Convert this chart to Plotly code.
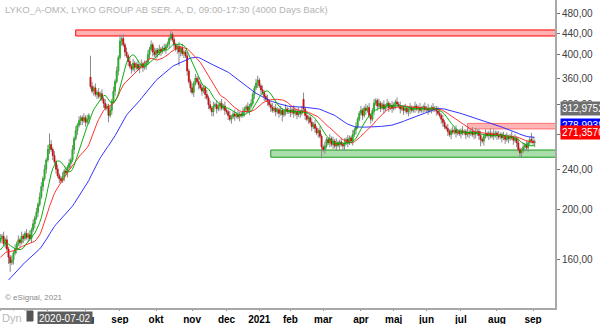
import numpy as np
import pandas as pd
import plotly.graph_objects as go

# ---------------- data ----------------
holidays = ["2020-05-21", "2020-06-19", "2020-12-24", "2020-12-25", "2020-12-31",
            "2021-01-01", "2021-01-06", "2021-04-02", "2021-04-05", "2021-05-13", "2021-06-25"]

# closes before the visible window (only used to warm up the moving averages)
warmup_closes = [98, 100, 104, 108, 106, 112, 116, 120, 118, 124, 128, 126, 132, 136, 134, 138,
                 142, 140, 145, 148, 146, 150, 152, 150,
                 150, 148, 152, 155, 153, 157, 160, 158, 156, 160, 163, 161, 158, 162, 166, 164,
                 168, 170, 173, 175]

closes = [
    176, 178, 172, 175, 168, 162, 158, 160, 165, 168,
    172, 175, 173, 178, 176, 180, 177, 179, 176, 183,
    188, 193, 198, 205, 212, 222, 230, 240, 250, 262,
    268, 262, 255, 248, 240, 233, 230, 228, 232, 238,
    236, 242, 246, 250, 262, 275, 285, 292, 298, 302,
    298, 302, 296, 300, 305, 347, 340, 345, 335, 338,
    332, 336, 328, 322, 315, 318, 305, 312, 325, 340,
    355, 372, 395, 425, 430, 418, 405, 398, 388, 380,
    375, 385, 378, 383, 376, 380, 384, 378, 382, 386,
    400, 410, 418, 405, 400, 408, 403, 410, 406, 412,
    410, 416, 420, 430, 438, 428, 418, 410, 415, 405,
    412, 402, 405, 398, 372, 355, 345, 338, 352, 360,
    355, 350, 345, 340, 345, 335, 330, 320, 315, 310,
    318, 320, 314, 318, 322, 315, 318, 312, 310, 305,
    300, 303, 307, 304, 306, 303, 307, 305, 310, 314,
    317, 312, 318, 322, 335, 345, 352, 357, 348, 342,
    338, 332, 328, 325, 320, 316, 312, 315, 310, 313,
    308, 312, 306, 311, 314, 310, 312, 309, 313, 308,
    311, 306, 310, 308, 312, 314, 305, 300, 302, 296,
    290, 293, 288, 282, 285, 278, 265, 262, 266, 274,
    270, 275, 268, 272, 266, 270, 267, 271, 268, 266,
    270, 274, 270, 276, 272, 280, 286, 290, 300, 308,
    312, 305, 315, 312, 316, 305, 300, 312, 322, 326,
    318, 322, 316, 320, 314, 318, 322, 316, 319, 315,
    320, 324, 321, 318, 314, 316, 312, 315, 310, 313,
    316, 312, 315, 318, 314, 316, 312, 315, 317, 313,
    315, 312, 314, 316, 313, 315, 311, 308, 305, 300,
    296, 290, 288, 284, 280, 285, 283, 286, 282, 284,
    281, 285, 282, 284, 280, 283, 281, 284, 280, 283,
    281, 284, 279, 274, 272, 278, 281, 279, 282, 278,
    281, 279, 282, 279, 277, 280, 276, 278, 274, 277,
    275, 278, 276, 273, 275, 270, 262, 258, 261, 265,
    267, 264, 270, 274, 272, 270, 271.357,
]

# opening gaps (bar index -> open); other bars open at the previous close
gap_opens = {0: 174, 55: 362, 185: 328}

# upper / lower shadow length in percent of the body edge
wick_up = [
    2, 1, 2, 1, 2, 1, 1, 2, 1, 2,  1, 2, 1, 2, 1, 1, 2, 1, 2, 1,
    2, 1, 2, 1, 2, 2, 1, 2, 1, 2,  5, 2, 1, 2, 1, 2, 1, 1, 2, 1,
    2, 1, 2, 1, 2, 1, 2, 1, 2, 1,  1, 2, 1, 2, 1, 10, 2, 1, 2, 1,
    2, 1, 2, 1, 2, 1, 1, 2, 1, 2,  1, 2, 1, 3, 1, 2, 1, 2, 1, 2,
    1, 2, 1, 1, 2, 1, 2, 1, 2, 1,  2, 1, 2, 1, 2, 1, 1, 2, 1, 1,
    2, 1, 1, 1, 2, 1, 2, 1, 1, 2,  1, 2, 1, 1, 2, 1, 1, 2, 1, 2,
    1, 2, 1, 2, 1, 1, 2, 1, 2, 1,  2, 1, 2, 1, 1, 2, 1, 2, 1, 1,
    2, 1, 1, 2, 1, 2, 1, 1, 2, 1,  1, 2, 1, 2, 1, 1, 2, 2, 1, 1,
    2, 1, 1, 2, 1, 1, 2, 1, 2, 1,  1, 2, 1, 1, 2, 1, 1, 2, 1, 2,
    1, 1, 2, 1, 2, 3, 1, 2, 1, 1,  2, 1, 2, 1, 1, 2, 1, 1, 2, 1,
    1, 2, 1, 2, 1, 2, 1, 1, 2, 1,  2, 1, 2, 1, 1, 2, 1, 2, 1, 1,
    2, 1, 1, 2, 1, 2, 1, 1, 2, 1,  1, 2, 1, 1, 2, 1, 2, 1, 1, 2,
    1, 1, 2, 1, 2, 1, 1, 2, 1, 1,  2, 1, 1, 2, 1, 1, 2, 1, 1, 2,
    1, 2, 1, 1, 2, 1, 1, 2, 1, 1,  2, 1, 1, 2, 1, 1, 2, 1, 2, 1,
    1, 1, 2, 1, 1, 2, 1, 1, 2, 1,  2, 1, 1, 2, 1, 1, 2, 1, 1, 2,
    1, 2, 1, 1, 2, 1, 1, 2, 1, 2,  1, 1, 2, 1, 2, 1, 2, 1, 1, 2,
    1, 2, 1, 1, 3, 2, 1,
]
wick_dn = [
    1, 2, 1, 2, 1, 3, 4, 1, 2, 1,  2, 1, 2, 1, 2, 1, 1, 2, 1, 2,
    1, 2, 1, 2, 1, 1, 2, 1, 2, 1,  2, 1, 2, 1, 2, 1, 2, 1, 1, 2,
    1, 2, 1, 2, 1, 2, 1, 2, 1, 2,  2, 1, 2, 1, 2, 1, 1, 2, 1, 2,
    1, 2, 1, 2, 1, 1, 3, 1, 2, 1,  2, 1, 2, 1, 2, 1, 2, 1, 2, 1,
    2, 1, 2, 1, 1, 2, 1, 2, 1, 2,  1, 2, 1, 2, 1, 2, 2, 1, 2, 1,
    1, 2, 1, 2, 1, 1, 2, 1, 2, 6,  2, 1, 2, 1, 2, 1, 2, 1, 2, 1,
    1, 2, 1, 2, 1, 2, 1, 2, 1, 2,  2, 1, 2, 1, 2, 1, 1, 2, 1, 2,
    1, 2, 1, 2, 1, 1, 2, 1, 1, 2,  2, 1, 2, 1, 1, 2, 1, 2, 1, 2,
    1, 2, 1, 2, 1, 2, 1, 1, 2, 1,  2, 1, 3, 1, 2, 1, 1, 2, 1, 2,
    1, 2, 1, 2, 1, 1, 2, 1, 2, 1,  2, 1, 2, 1, 2, 1, 5, 1, 2, 1,
    1, 2, 1, 2, 1, 2, 1, 2, 1, 2,  2, 1, 2, 1, 1, 2, 1, 2, 1, 1,
    1, 2, 1, 2, 1, 1, 2, 1, 2, 1,  2, 1, 2, 1, 2, 1, 1, 2, 1, 2,
    1, 2, 1, 1, 2, 1, 2, 1, 1, 2,  2, 1, 1, 2, 1, 2, 1, 1, 2, 1,
    1, 2, 1, 2, 1, 1, 2, 1, 1, 2,  2, 1, 1, 2, 1, 2, 1, 1, 2, 1,
    1, 2, 1, 1, 2, 1, 2, 1, 1, 2,  2, 1, 2, 3, 1, 2, 1, 1, 2, 1,
    1, 2, 1, 2, 1, 1, 2, 1, 2, 1,  2, 1, 1, 2, 1, 2, 1, 2, 2, 1,
    2, 1, 2, 1, 1, 1, 2,
]

# horizontal zones: (start date, low, high, fill, border)
zones = [
    ("2020-07-24", 434.9, 446.8, "rgba(255,70,70,0.42)", "#ff0000"),
    ("2021-01-14", 253.1, 261.4, "rgba(40,170,40,0.40)", "#1a9a1a"),
    ("2021-07-07", 287.1, 294.4, "rgba(255,70,70,0.40)", "rgba(255,40,40,0.55)"),
]

y_ticks = [160, 200, 240, 280, 320, 360, 400, 440, 480]
month_names = ["jan", "feb", "mar", "apr", "maj", "jun", "jul", "aug", "sep", "okt", "nov", "dec"]

last_labels = [  # (value, background, shift px)
    (312.9752, "#6e6e6e", 1),
    (278.9938, "#0000ff", 10),
    (271.3570, "#ff0000", 9),
]

# ---------------- derived ----------------
dates = pd.bdate_range("2020-05-19", "2021-09-02")
dates = dates[~dates.isin(pd.to_datetime(holidays))]
n = len(closes)
x = np.arange(n)

opens = [gap_opens.get(i, closes[i - 1] if i > 0 else closes[0]) for i in range(n)]
highs = [max(o, c) * (1 + u / 100) for o, c, u in zip(opens, closes, wick_up)]
lows = [min(o, c) * (1 - d / 100) for o, c, d in zip(opens, closes, wick_dn)]
body_top = [max(o, c) for o, c in zip(opens, closes)]
body_bot = [min(o, c) for o, c in zip(opens, closes)]

allc = pd.Series(warmup_closes + closes)
k = len(warmup_closes)
ma_fast = allc.rolling(10).mean().iloc[k:].values
ma_mid = allc.rolling(20).mean().iloc[k:].values
ma_slow = allc.rolling(50).mean().iloc[k:].values

tickvals, ticktext = [], []
prev = None
for i, d in enumerate(dates):
    key = (d.year, d.month)
    if key != prev:
        tickvals.append(i)
        ticktext.append(str(d.year) if d.month == 1 else month_names[d.month - 1])
        prev = key


def pos_of(ds):
    return int(np.searchsorted(dates.values, pd.Timestamp(ds).to_datetime64()))


X_MIN, X_MAX = -0.2, 338.4

fig = go.Figure()
# shadows (gray)
fig.add_trace(go.Candlestick(
    x=x, open=opens, high=highs, low=lows, close=closes,
    increasing=dict(fillcolor="#8a8a8a", line=dict(color="#8a8a8a", width=1)),
    decreasing=dict(fillcolor="#8a8a8a", line=dict(color="#8a8a8a", width=1)),
    whiskerwidth=0, hoverinfo="skip", showlegend=False,
))
# coloured bodies
fig.add_trace(go.Candlestick(
    x=x, open=opens, high=body_top, low=body_bot, close=closes,
    increasing=dict(fillcolor="#10c010", line=dict(color="#10c010", width=0.6)),
    decreasing=dict(fillcolor="#e00000", line=dict(color="#e00000", width=0.6)),
    whiskerwidth=0, hoverinfo="skip", showlegend=False,
))
for vals, col in [(ma_slow, "rgba(30,30,255,0.9)"), (ma_mid, "rgba(255,30,30,0.9)"),
                  (ma_fast, "rgba(0,170,0,0.95)")]:
    fig.add_trace(go.Scatter(x=x, y=vals, mode="lines", line=dict(color=col, width=1),
                             hoverinfo="skip", showlegend=False))

for start, lo, hi, fill, border in zones:
    fig.add_shape(type="rect", xref="x", yref="y", x0=pos_of(start), x1=X_MAX + 5,
                  y0=lo, y1=hi, fillcolor=fill, line=dict(color=border, width=1), layer="below")

font_main = "Liberation Sans, Arial, sans-serif"

fig.update_layout(
    width=600, height=324,
    margin=dict(l=0, r=45, t=0, b=16),
    paper_bgcolor="white", plot_bgcolor="white",
    font=dict(family=font_main),
    xaxis=dict(
        range=[X_MIN, X_MAX], rangeslider=dict(visible=False),
        tickmode="array", tickvals=tickvals, ticktext=ticktext,
        showgrid=False, zeroline=False, showline=True, linecolor="#a8a8a8", linewidth=2,
        ticks="outside", ticklen=1, tickcolor="#909090",
        tickfont=dict(size=10, color="#000000", family=font_main, weight="bold"),
        automargin=False,
    ),
    yaxis=dict(
        type="log", side="right",
        range=[np.log10(129.1), np.log10(510.7)],
        tickmode="array", tickvals=y_ticks,
        ticktext=[f"{v},00" for v in y_ticks],
        showgrid=False, zeroline=False, showline=True, linecolor="#a8a8a8", linewidth=2,
        ticks="outside", ticklen=3, tickcolor="#707070",
        tickfont=dict(size=10, color="#404040", family=font_main),
        automargin=False,
    ),
)

ann = []
ann.append(dict(xref="paper", yref="paper", x=0, y=1, xanchor="left", yanchor="top",
                xshift=3, yshift=-2, showarrow=False,
                text="LYKO_A-OMX, LYKO GROUP AB SER. A, D, 09:00-17:30 (4000 Days Back)",
                font=dict(size=9.5, color="#b4b4b4", family=font_main)))
ann.append(dict(xref="paper", yref="paper", x=0, y=0, xanchor="left", yanchor="bottom",
                xshift=3, yshift=4, showarrow=False, text="© eSignal, 2021",
                font=dict(size=8, color="#8a8a8a", family=font_main)))
for val, bg, sh in last_labels:
    ann.append(dict(xref="paper", yref="y", x=1, y=np.log10(val), xanchor="left", yanchor="middle",
                    xshift=5, yshift=sh, showarrow=False, text=f"{val:.4f}".replace(".", ","),
                    bgcolor=bg, borderpad=1, font=dict(size=10, color="white", family=font_main)))
# bottom-left status strip
ann.append(dict(xref="paper", yref="paper", x=0, y=-0.034, xanchor="left", yanchor="middle",
                showarrow=False, text="Dyn ", bgcolor="white", borderpad=1,
                font=dict(size=11, color="#b8b8b8", family=font_main)))
ann.append(dict(xref="paper", yref="paper", x=37 / 555, y=-0.034, xanchor="left", yanchor="middle",
                showarrow=False, text="2020-07-02", bgcolor="#5e5e5e", borderpad=1,
                font=dict(size=10, color="white", family=font_main)))
fig.update_layout(annotations=ann)
fig.add_shape(type="rect", xref="paper", yref="paper", x0=24 / 555, x1=33 / 555,
              y0=-13 / 308, y1=-3 / 308, fillcolor="#555555", line=dict(color="#555555", width=1))

fig.write_html("out.html")
